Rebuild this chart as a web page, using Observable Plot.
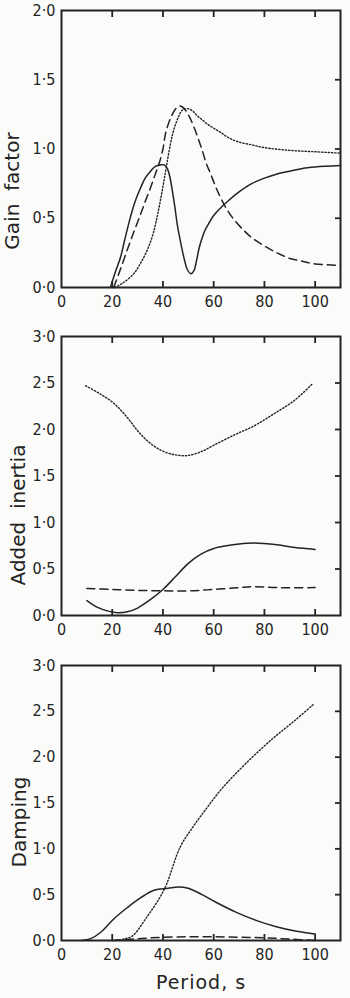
<!DOCTYPE html>
<html>
<head>
<meta charset="utf-8">
<script src="https://cdn.jsdelivr.net/npm/d3@7"></script>
<script src="https://cdn.jsdelivr.net/npm/@observablehq/plot@0.6"></script>
<style>
  html, body { margin: 0; padding: 0; background: #fbfbf9; }
  #chart { width: 350px; }
  #chart svg { display: block; background: transparent; }
</style>
</head>
<body>
<div id="chart"></div>
<script>
// ---------- Data ----------
const xTicks = [0, 20, 40, 60, 80, 100];
const innerXTicks = [20, 40, 60, 80, 100];
const gainTicks = [0, 0.5, 1.0, 1.5, 2.0];
const inertiaTicks = [0, 0.5, 1.0, 1.5, 2.0, 2.5, 3.0];
const dampingTicks = [0, 0.5, 1.0, 1.5, 2.0, 2.5, 3.0];

// Panel 1 : Gain factor
const gainSolidX = [19.3,21,23.3,25,27.2,29,31.2,33,35.1,37,39,40.5,41.7,42.7,43.7,44.7,45.6,46.6,47.6,48.6,49.6,51,52.2,53.2,54.2,55.3,56.5,58,60,63,66,70,75,80,85,90,95,100,110];
const gainSolidY = [0,0.1,0.22,0.35,0.51,0.62,0.72,0.79,0.84,0.875,0.885,0.885,0.86,0.8,0.7,0.58,0.46,0.36,0.27,0.19,0.13,0.1,0.12,0.19,0.28,0.35,0.41,0.46,0.52,0.58,0.63,0.69,0.75,0.79,0.82,0.84,0.86,0.87,0.88];
const gainDashX = [20.6,23,25.9,28.5,31.2,33,35.1,37,38.4,40,41,42.5,43.7,45,46.3,47.5,48.9,50.5,52.2,54,55.5,57,58.8,60.5,62.7,65,68,72,75,80,85,90,95,100,110];
const gainDashY = [0,0.12,0.27,0.40,0.53,0.62,0.72,0.82,0.89,1.0,1.11,1.2,1.25,1.29,1.31,1.305,1.28,1.23,1.16,1.07,0.99,0.9,0.82,0.74,0.65,0.57,0.49,0.41,0.36,0.30,0.25,0.21,0.19,0.17,0.16];
const gainDotX = [21,24,28.5,31,33.8,36,37.7,39,40.4,41.7,43,44,45,46.3,47.6,49,50.2,52,53.5,55.5,57.5,60,62.7,66,70,75,80,90,100,110];
const gainDotY = [0,0.03,0.10,0.17,0.27,0.38,0.51,0.63,0.77,0.91,1.04,1.12,1.18,1.24,1.28,1.29,1.29,1.27,1.24,1.21,1.18,1.15,1.12,1.08,1.05,1.03,1.01,0.99,0.98,0.97];

// Panel 2 : Added inertia
const inertiaSolidX = [10,14,18,22,26,30,35,40,45,50,55,60,65,70,76,85,92,100];
const inertiaSolidY = [0.16,0.09,0.05,0.03,0.04,0.08,0.17,0.28,0.42,0.56,0.66,0.72,0.75,0.77,0.78,0.76,0.73,0.71];
const inertiaDashX = [10,20,30,40,50,60,70,76,85,100];
const inertiaDashY = [0.29,0.28,0.27,0.265,0.265,0.28,0.30,0.31,0.30,0.30];
const inertiaDotX = [9.5,15.4,20.7,25.9,29.9,33.8,39,44.3,49.6,54.9,60,68,76,83.8,91.7,98.9];
const inertiaDotY = [2.47,2.38,2.28,2.13,1.99,1.88,1.78,1.73,1.72,1.76,1.83,1.94,2.04,2.17,2.31,2.49];

// Panel 3 : Damping
const dampSolidX = [8,11.5,15.5,20.8,26,31.4,36.7,42,46,50,55.4,60.7,68.7,76.7,84.7,92.7,100];
const dampSolidY = [0,0.02,0.09,0.24,0.36,0.47,0.55,0.57,0.585,0.57,0.5,0.42,0.31,0.22,0.15,0.10,0.07];
const dampDashX = [20,30,40,50,60,70,80,90,100];
const dampDashY = [0,0.02,0.035,0.04,0.04,0.035,0.03,0.015,0];
const dampDotX = [21.5,25,28,33.5,38.8,41.5,46.8,52.1,57.4,62.7,68,76,84,92,99.5];
const dampDotY = [0,0.02,0.05,0.25,0.47,0.62,1.02,1.25,1.45,1.64,1.80,2.02,2.22,2.40,2.58];

// ---------- Drawing ----------
const FONT = "'DejaVu Sans Condensed', 'DejaVu Sans', sans-serif";
const LABEL_FONT = "'DejaVu Sans', sans-serif";
const INK = "#232323";
const fmt = d => d.toFixed(1).replace(".", "·");
const zip = (xs, ys) => xs.map((x, i) => ({x, y: ys[i]}));

function panel({height, marginTop, marginBottom, yDomain, yTicks, series, yLabel, labelDx, labelDy, xLabel}) {
  const lineOpts = {x: "x", y: "y", stroke: INK, strokeWidth: 1.5, curve: "catmull-rom"};
  return Plot.plot({
    width: 350,
    height,
    marginLeft: 61,
    marginRight: 10,
    marginTop,
    marginBottom,
    style: {fontFamily: FONT, fontSize: "16px", color: INK, background: "transparent"},
    x: {domain: [0, 110]},
    y: {domain: yDomain},
    marks: [
      Plot.line(zip(series.solid[0], series.solid[1]), {...lineOpts}),
      Plot.line(zip(series.dash[0], series.dash[1]), {...lineOpts, strokeDasharray: "8,5"}),
      Plot.line(zip(series.dot[0], series.dot[1]), {...lineOpts, strokeWidth: 1.4, strokeDasharray: "1.3,2"}),
      Plot.frame({stroke: INK, strokeWidth: 2}),
      // inward ticks: bottom, top, right
      Plot.axisX({anchor: "bottom", ticks: innerXTicks, tickSize: -6, tickFormat: () => "", label: null, strokeWidth: 1.8}),
      Plot.axisX({anchor: "top", ticks: innerXTicks, tickSize: -6, tickFormat: () => "", label: null, strokeWidth: 1.8}),
      Plot.axisY({anchor: "right", ticks: yTicks.slice(1, -1), tickSize: -6, tickFormat: () => "", label: null, strokeWidth: 1.8}),
      // tick labels
      Plot.axisX({anchor: "bottom", ticks: xTicks, tickSize: 0, tickPadding: 8, tickFormat: d => String(d),
                  label: xLabel ?? null, labelAnchor: "center", labelArrow: "none", labelOffset: 48, fontSize: 16}),
      Plot.axisY({anchor: "left", ticks: yTicks, tickSize: 0, tickPadding: 6, tickFormat: fmt, label: null, fontSize: 16}),
      Plot.text([yLabel], {text: d => d, frameAnchor: "left", textAnchor: "middle", lineAnchor: "middle",
                           dx: labelDx, dy: labelDy, rotate: -90,
                           fontSize: 20, fontFamily: LABEL_FONT, fill: INK})
    ]
  });
}

const chart = document.getElementById("chart");

chart.append(panel({
  height: 320, marginTop: 10, marginBottom: 33,
  yDomain: [0, 2], yTicks: gainTicks,
  series: {solid: [gainSolidX, gainSolidY], dash: [gainDashX, gainDashY], dot: [gainDotX, gainDotY]},
  yLabel: "Gain  factor", labelDx: -49, labelDy: 42
}));

chart.append(panel({
  height: 330, marginTop: 16, marginBottom: 35,
  yDomain: [0, 3], yTicks: inertiaTicks,
  series: {solid: [inertiaSolidX, inertiaSolidY], dash: [inertiaDashX, inertiaDashY], dot: [inertiaDotX, inertiaDotY]},
  yLabel: "Added  inertia", labelDx: -43, labelDy: 39
}));

const p3 = panel({
  height: 348, marginTop: 15, marginBottom: 58,
  yDomain: [0, 3], yTicks: dampingTicks,
  series: {solid: [dampSolidX, dampSolidY], dash: [dampDashX, dampDashY], dot: [dampDotX, dampDotY]},
  yLabel: "Damping", labelDx: -42, labelDy: 19,
  xLabel: "Period, s"
});
chart.append(p3);
d3.select(p3).selectAll("[aria-label='x-axis label'] text")
  .attr("font-size", 19).attr("font-family", LABEL_FONT).attr("letter-spacing", 1);
</script>
</body>
</html>
